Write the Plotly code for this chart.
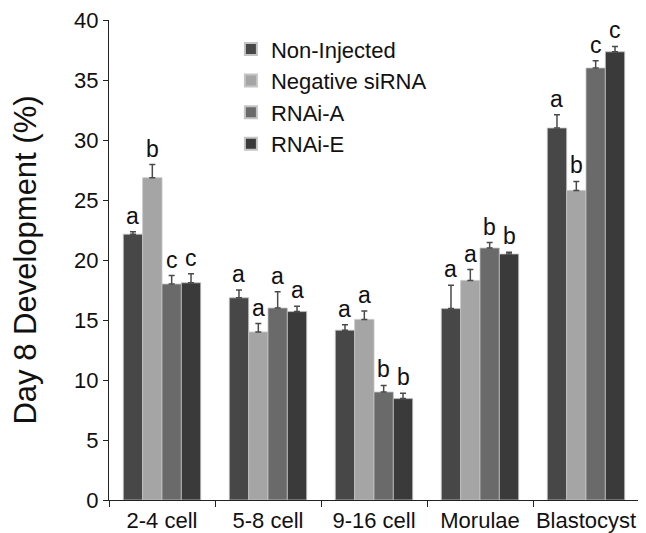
import plotly.graph_objects as go

categories = ["2-4 cell", "5-8 cell", "9-16 cell", "Morulae", "Blastocyst"]
series_names = ["Non-Injected", "Negative siRNA", "RNAi-A", "RNAi-E"]
colors = ["#474747", "#a5a5a5", "#6a6a6a", "#3a3a3a"]

non_injected = [22.15, 16.85, 14.15, 15.95, 31.0]
negative_sirna = [26.85, 14.0, 15.05, 18.3, 25.8]
rnai_a = [18.0, 16.0, 9.0, 21.0, 36.0]
rnai_e = [18.1, 15.7, 8.45, 20.5, 37.35]

err_non_injected = [0.2, 0.65, 0.45, 1.95, 1.1]
err_negative_sirna = [1.1, 0.7, 0.7, 0.9, 0.75]
err_rnai_a = [0.7, 1.35, 0.55, 0.45, 0.6]
err_rnai_e = [0.75, 0.45, 0.45, 0.15, 0.45]

letters_non_injected = ["a", "a", "a", "a", "a"]
letters_negative_sirna = ["b", "a", "a", "a", "b"]
letters_rnai_a = ["c", "a", "b", "b", "c"]
letters_rnai_e = ["c", "a", "b", "b", "c"]

values = [non_injected, negative_sirna, rnai_a, rnai_e]
errors = [err_non_injected, err_negative_sirna, err_rnai_a, err_rnai_e]
letters = [letters_non_injected, letters_negative_sirna, letters_rnai_a, letters_rnai_e]

FONT = "Liberation Sans, Arial, sans-serif"
bargap = 0.27
n = len(series_names)
bw = (1 - bargap) / n

fig = go.Figure()
for j, (name, col, vals, errs) in enumerate(zip(series_names, colors, values, errors)):
    fig.add_trace(go.Bar(
        name=name, x=categories, y=vals,
        marker=dict(color=col, line=dict(color="#c4c4c4", width=0.8)),
        error_y=dict(type="data", symmetric=False, array=errs,
                     arrayminus=[0] * len(errs), color="#4a4a4a",
                     thickness=1.5, width=3),
    ))

annotations = []
for j in range(n):
    for i in range(len(categories)):
        annotations.append(dict(
            x=i + (j - (n - 1) / 2) * bw, y=values[j][i] + errors[j][i],
            xref="x", yref="y", text=letters[j][i], showarrow=False,
            yanchor="bottom", yshift=1,
            font=dict(family=FONT, size=23, color="#111111"),
        ))

# page body adds an 8px margin, so the figure is sized/positioned to compensate
fig.update_layout(
    width=638, height=525,
    paper_bgcolor="white", plot_bgcolor="white",
    margin=dict(l=101, r=7, t=12, b=33),
    barmode="group", bargap=bargap, bargroupgap=0,
    font=dict(family=FONT, color="#111111"),
    annotations=annotations,
    legend=dict(x=0.23, y=0.983, xanchor="left", yanchor="top",
                bgcolor="rgba(0,0,0,0)", font=dict(family=FONT, size=22, color="#111111"),
                tracegroupgap=0, itemsizing="constant"),
    showlegend=True,
)
fig.update_xaxes(
    type="category", showline=True, linecolor="#222", linewidth=1.2,
    ticks="outside", tickson="boundaries", ticklen=6, tickcolor="#222",
    tickfont=dict(family=FONT, size=22, color="#111111"), tickangle=0,
    showgrid=False, zeroline=False, automargin=False, ticklabeloverflow="allow",
)
fig.update_yaxes(
    range=[0, 40], tickvals=[0, 5, 10, 15, 20, 25, 30, 35, 40],
    showline=True, linecolor="#222", linewidth=1.2,
    ticks="outside", ticklen=5, tickcolor="#222",
    tickfont=dict(family=FONT, size=22, color="#111111"),
    showgrid=False, zeroline=False, automargin=False, ticklabeloverflow="allow",
    title=dict(text="Day 8 Development (%)", font=dict(family=FONT, size=31, color="#111111"), standoff=33),
)

fig.write_html("out.html")
